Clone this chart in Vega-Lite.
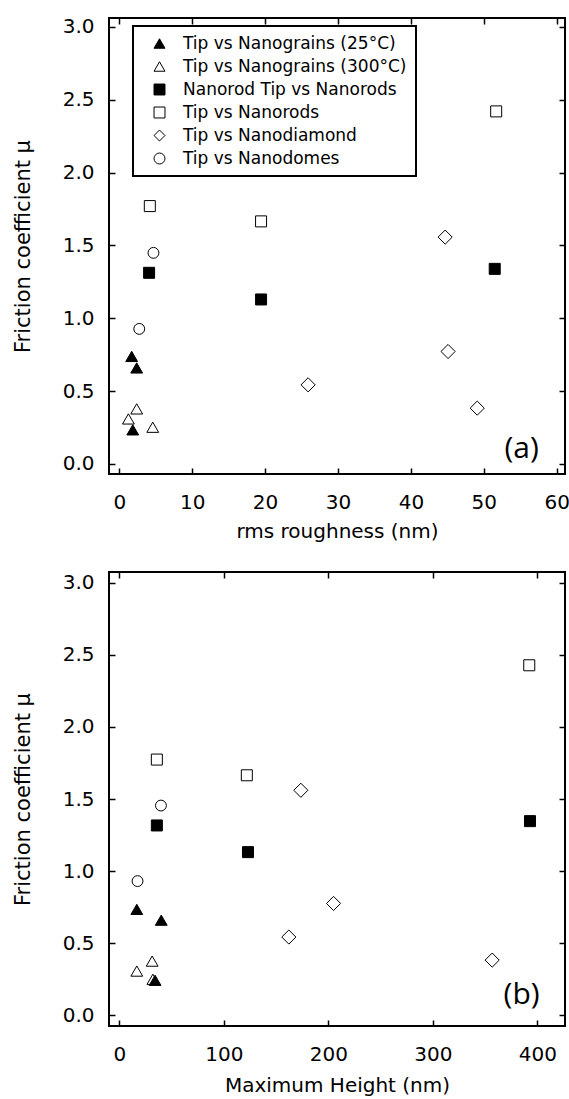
{
  "$schema": "https://vega.github.io/schema/vega-lite/v6.json",
  "background": "white",
  "padding": {"left": 11, "top": 15, "right": 0, "bottom": 0},
  "spacing": 28,
  "config": {
    "view": {"stroke": "black", "strokeWidth": 2},
    "axis": {
      "grid": false, "domain": false, "tickColor": "black", "tickWidth": 1.5, "tickSize": -6,
      "labelColor": "black", "labelFont": "DejaVu Sans", "labelFontSize": 20,
      "titleColor": "black", "titleFont": "DejaVu Sans", "titleFontWeight": "normal", "titleFontSize": 20
    },
    "legend": {
      "strokeColor": "black", "strokeWidth": 2, "fillColor": "white", "padding": 9,
      "labelFont": "DejaVu Sans", "labelFontSize": 17, "labelColor": "black", "labelLimit": 400,
      "symbolOffset": 9, "labelOffset": 15, "rowPadding": 5, "symbolSize": 120,
      "symbolStrokeColor": "black", "symbolStrokeWidth": 1, "symbolOpacity": 1
    }
  },
  "datasets": {
    "a": [
      {"series": "Tip vs Nanograins (300°C)", "x": 2.39, "y": 0.378},
      {"series": "Tip vs Nanograins (300°C)", "x": 1.25, "y": 0.309},
      {"series": "Tip vs Nanograins (300°C)", "x": 4.59, "y": 0.252},
      {"series": "Tip vs Nanograins (25°C)", "x": 1.70, "y": 0.738},
      {"series": "Tip vs Nanograins (25°C)", "x": 2.39, "y": 0.659},
      {"series": "Tip vs Nanograins (25°C)", "x": 1.85, "y": 0.234},
      {"series": "Nanorod Tip vs Nanorods", "x": 4.09, "y": 1.312},
      {"series": "Nanorod Tip vs Nanorods", "x": 19.45, "y": 1.129},
      {"series": "Nanorod Tip vs Nanorods", "x": 51.5, "y": 1.339},
      {"series": "Tip vs Nanorods", "x": 4.19, "y": 1.77},
      {"series": "Tip vs Nanorods", "x": 19.45, "y": 1.665},
      {"series": "Tip vs Nanorods", "x": 51.7, "y": 2.42},
      {"series": "Tip vs Nanodiamond", "x": 25.9, "y": 0.543},
      {"series": "Tip vs Nanodiamond", "x": 44.7, "y": 1.557},
      {"series": "Tip vs Nanodiamond", "x": 45.1, "y": 0.772},
      {"series": "Tip vs Nanodiamond", "x": 49.1, "y": 0.383},
      {"series": "Tip vs Nanodomes", "x": 2.74, "y": 0.927},
      {"series": "Tip vs Nanodomes", "x": 4.69, "y": 1.449}
    ],
    "b": [
      {"series": "Tip vs Nanograins (300°C)", "x": 16.7, "y": 0.307},
      {"series": "Tip vs Nanograins (300°C)", "x": 31.4, "y": 0.376},
      {"series": "Tip vs Nanograins (300°C)", "x": 32.1, "y": 0.25},
      {"series": "Tip vs Nanograins (25°C)", "x": 16.7, "y": 0.735},
      {"series": "Tip vs Nanograins (25°C)", "x": 40.1, "y": 0.66},
      {"series": "Tip vs Nanograins (25°C)", "x": 34.2, "y": 0.243},
      {"series": "Nanorod Tip vs Nanorods", "x": 35.9, "y": 1.317},
      {"series": "Nanorod Tip vs Nanorods", "x": 123.1, "y": 1.132},
      {"series": "Nanorod Tip vs Nanorods", "x": 393, "y": 1.347},
      {"series": "Tip vs Nanorods", "x": 35.9, "y": 1.774},
      {"series": "Tip vs Nanorods", "x": 122, "y": 1.665},
      {"series": "Tip vs Nanorods", "x": 392.3, "y": 2.428},
      {"series": "Tip vs Nanodiamond", "x": 162.2, "y": 0.543},
      {"series": "Tip vs Nanodiamond", "x": 173.7, "y": 1.561},
      {"series": "Tip vs Nanodiamond", "x": 205, "y": 0.776},
      {"series": "Tip vs Nanodiamond", "x": 356.8, "y": 0.383},
      {"series": "Tip vs Nanodomes", "x": 17.4, "y": 0.931},
      {"series": "Tip vs Nanodomes", "x": 39.8, "y": 1.455}
    ]
  },
  "resolve": {"scale": {"shape": "independent", "fill": "independent"}},
  "vconcat": [
    {
      "width": 456, "height": 456,
      "layer": [
        {
          "data": {"name": "a"},
          "mark": {"type": "point", "filled": true, "stroke": "black", "strokeWidth": 1, "opacity": 1},
          "encoding": {
            "x": {"field": "x", "type": "quantitative",
              "scale": {"domain": [-1.41, 61.14], "nice": false, "zero": false},
              "axis": {"orient": "bottom", "values": [0, 10, 20, 30, 40, 50, 60], "format": "d", "title": "rms roughness (nm)", "labelPadding": 24, "titlePadding": 9}},
            "y": {"field": "y", "type": "quantitative",
              "scale": {"domain": [-0.069, 3.061], "nice": false, "zero": false},
              "axis": {"orient": "left", "values": [0, 0.5, 1, 1.5, 2, 2.5, 3], "format": ".1f", "title": "Friction coefficient μ", "labelPadding": 21, "titlePadding": 29, "titleFontSize": 21}},
            "shape": {"field": "series", "type": "nominal",
              "scale": {"domain": ["Tip vs Nanograins (25°C)", "Tip vs Nanograins (300°C)", "Nanorod Tip vs Nanorods", "Tip vs Nanorods", "Tip vs Nanodiamond", "Tip vs Nanodomes"],
                "range": ["triangle-up", "triangle-up", "square", "square", "diamond", "circle"]},
              "legend": {"title": null, "orient": "none", "legendX": 24, "legendY": 8,
                "encode": {"symbols": {"update": {"stroke": {"value": "black"}, "strokeWidth": {"value": 1}, "opacity": {"value": 1}}}}}},
            "fill": {"field": "series", "type": "nominal",
              "scale": {"domain": ["Tip vs Nanograins (25°C)", "Tip vs Nanograins (300°C)", "Nanorod Tip vs Nanorods", "Tip vs Nanorods", "Tip vs Nanodiamond", "Tip vs Nanodomes"],
                "range": ["black", "white", "black", "white", "white", "white"]},
              "legend": {"title": null, "orient": "none", "legendX": 24, "legendY": 8,
                "encode": {"symbols": {"update": {"stroke": {"value": "black"}, "strokeWidth": {"value": 1}, "opacity": {"value": 1}}}}}},
            "size": {"condition": [
                {"test": "datum.series === 'Tip vs Nanodiamond'", "value": 200},
                {"test": "datum.series === 'Tip vs Nanodomes'", "value": 118},
                {"test": "indexof(datum.series, 'Nanograins') >= 0", "value": 140}
              ], "value": 121}
          }
        },
        {
          "data": {"name": "a"},
          "mark": {"type": "point", "opacity": 0},
          "encoding": {
            "x": {"field": "x", "type": "quantitative", "axis": {"orient": "top", "values": [0, 10, 20, 30, 40, 50, 60], "labels": false, "title": null}},
            "y": {"field": "y", "type": "quantitative", "axis": {"orient": "right", "values": [0, 0.5, 1, 1.5, 2, 2.5, 3], "labels": false, "title": null}}
          }
        },
        {
          "data": {"values": [{"x": 55.2, "y": 0.04, "t": "(a)"}]},
          "mark": {"type": "text", "font": "Open Sans", "fontSize": 30, "align": "center", "baseline": "alphabetic", "color": "black"},
          "encoding": {
            "x": {"field": "x", "type": "quantitative", "axis": null},
            "y": {"field": "y", "type": "quantitative", "axis": null},
            "text": {"field": "t"}
          }
        }
      ],
      "resolve": {"axis": {"x": "independent", "y": "independent"}}
    },
    {
      "width": 456, "height": 454,
      "layer": [
        {
          "data": {"name": "b"},
          "mark": {"type": "point", "filled": true, "stroke": "black", "strokeWidth": 1, "opacity": 1},
          "encoding": {
            "x": {"field": "x", "type": "quantitative",
              "scale": {"domain": [-9.9, 426.5], "nice": false, "zero": false},
              "axis": {"orient": "bottom", "values": [0, 100, 200, 300, 400], "format": "d", "title": "Maximum Height (nm)", "labelPadding": 24, "titlePadding": 11}},
            "y": {"field": "y", "type": "quantitative",
              "scale": {"domain": [-0.074, 3.075], "nice": false, "zero": false},
              "axis": {"orient": "left", "values": [0, 0.5, 1, 1.5, 2, 2.5, 3], "format": ".1f", "title": "Friction coefficient μ", "labelPadding": 21, "titlePadding": 29, "titleFontSize": 21}},
            "shape": {"field": "series", "type": "nominal",
              "scale": {"domain": ["Tip vs Nanograins (25°C)", "Tip vs Nanograins (300°C)", "Nanorod Tip vs Nanorods", "Tip vs Nanorods", "Tip vs Nanodiamond", "Tip vs Nanodomes"],
                "range": ["triangle-up", "triangle-up", "square", "square", "diamond", "circle"]},
              "legend": null},
            "fill": {"field": "series", "type": "nominal",
              "scale": {"domain": ["Tip vs Nanograins (25°C)", "Tip vs Nanograins (300°C)", "Nanorod Tip vs Nanorods", "Tip vs Nanorods", "Tip vs Nanodiamond", "Tip vs Nanodomes"],
                "range": ["black", "white", "black", "white", "white", "white"]},
              "legend": null},
            "size": {"condition": [
                {"test": "datum.series === 'Tip vs Nanodiamond'", "value": 200},
                {"test": "datum.series === 'Tip vs Nanodomes'", "value": 118},
                {"test": "indexof(datum.series, 'Nanograins') >= 0", "value": 140}
              ], "value": 121}
          }
        },
        {
          "data": {"name": "b"},
          "mark": {"type": "point", "opacity": 0},
          "encoding": {
            "x": {"field": "x", "type": "quantitative", "axis": {"orient": "top", "values": [0, 100, 200, 300, 400], "labels": false, "title": null}},
            "y": {"field": "y", "type": "quantitative", "axis": {"orient": "right", "values": [0, 0.5, 1, 1.5, 2, 2.5, 3], "labels": false, "title": null}}
          }
        },
        {
          "data": {"values": [{"x": 385, "y": 0.08, "t": "(b)"}]},
          "mark": {"type": "text", "font": "Open Sans", "fontSize": 30, "align": "center", "baseline": "alphabetic", "color": "black"},
          "encoding": {
            "x": {"field": "x", "type": "quantitative", "axis": null},
            "y": {"field": "y", "type": "quantitative", "axis": null},
            "text": {"field": "t"}
          }
        }
      ],
      "resolve": {"axis": {"x": "independent", "y": "independent"}}
    }
  ]
}
